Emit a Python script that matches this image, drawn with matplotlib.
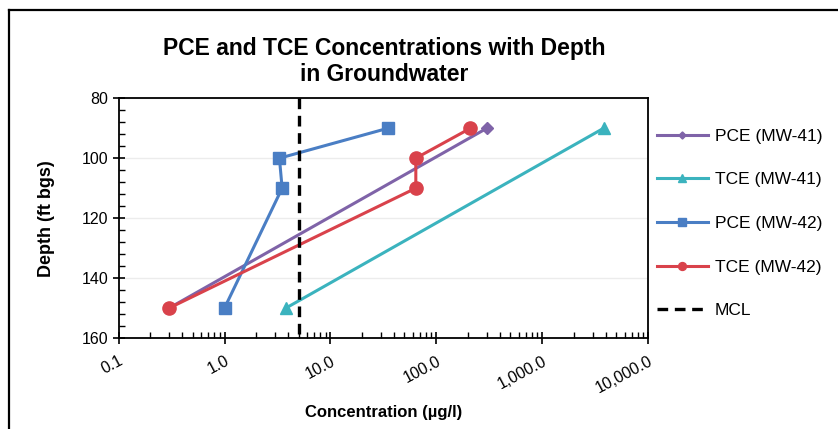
import numpy as np
import matplotlib
matplotlib.use("Agg")
import matplotlib.pyplot as plt
from matplotlib.ticker import FixedLocator, FuncFormatter
from matplotlib.lines import Line2D

plt.rcParams['font.family'] = ['Liberation Sans', 'DejaVu Sans']

# data
depth_mw41 = [90, 150]
pce_mw41 = [300, 0.3]
tce_mw41 = [3800, 3.8]

depth_mw42 = [90, 100, 110, 150]
pce_mw42 = [35, 3.3, 3.5, 1.0]
tce_mw42 = [210, 64, 64, 0.3]

mcl_value = 5.0
mcl_depth = [80, 160]

x_ticks = [0.1, 1, 10, 100, 1000, 10000]
y_ticks = [80, 100, 120, 140, 160]

fig = plt.figure(figsize=(8.38, 4.29), dpi=100)
ax = fig.add_axes([0.1415, 0.212, 0.632, 0.559])

ax.plot(pce_mw41, depth_mw41, '-D', color='#7F63A8', lw=2.2, ms=6, label='PCE (MW-41)')
ax.plot(tce_mw41, depth_mw41, '-^', color='#3BB3BE', lw=2.2, ms=9, label='TCE (MW-41)')
ax.plot(pce_mw42, depth_mw42, '-s', color='#4A7EC4', lw=2.2, ms=9, label='PCE (MW-42)')
ax.plot(tce_mw42, depth_mw42, '-o', color='#D9424B', lw=2.2, ms=9.5, label='TCE (MW-42)')
ax.plot([mcl_value, mcl_value], mcl_depth, color='black', lw=2.4, dashes=(3.2, 2.0), label='MCL')

ax.set_xscale('log')
ax.set_xlim(0.1, 10000)
ax.set_ylim(160, 80)

ax.xaxis.set_major_locator(FixedLocator(x_ticks))
ax.xaxis.set_major_formatter(FuncFormatter(lambda v, p: f"{v:,.1f}"))
minors = [m * d for d in x_ticks[:-1] for m in range(2, 10)]
ax.xaxis.set_minor_locator(FixedLocator(minors))
ax.xaxis.set_minor_formatter(FuncFormatter(lambda v, p: ''))

ax.set_yticks(y_ticks)
ax.set_yticks(np.arange(80, 161, 4), minor=True)

ax.tick_params(axis='both', which='major', direction='inout', length=8, width=1.2,
               labelsize=11.5, colors='black')
ax.tick_params(axis='both', which='minor', direction='in', length=4, width=1.0)
ax.tick_params(axis='x', which='major', pad=7)
plt.setp(ax.get_xticklabels(), rotation=28, ha='right', rotation_mode='anchor')

ax.yaxis.grid(True, which='major', color='#ececec', lw=1.0)
ax.set_axisbelow(True)
for s in ax.spines.values():
    s.set_linewidth(1.3)
    s.set_color('black')

ax.set_ylabel('Depth (ft bgs)', fontsize=13, fontweight='bold', labelpad=19)
ax.set_xlabel('Concentration (µg/l)', fontsize=12, fontweight='bold', labelpad=7)

fig.text(0.459, 0.857, 'PCE and TCE Concentrations with Depth\nin Groundwater',
         ha='center', va='center', fontsize=16.5, fontweight='bold', linespacing=1.15)

leg = ax.legend(loc='center left', bbox_to_anchor=(0.774, 0.479),
                bbox_transform=fig.transFigure, frameon=False, fontsize=12.5,
                labelspacing=1.64, handlelength=2.9, handletextpad=0.4,
                borderpad=0, markerscale=0.6)

# frame lines on the left and top of the picture
fig.add_artist(Line2D([9 / 838, 9 / 838], [0, 1 - 10 / 429], color='black', lw=1.6,
                      transform=fig.transFigure))
fig.add_artist(Line2D([9 / 838, 1], [1 - 10 / 429, 1 - 10 / 429], color='black', lw=1.6,
                      transform=fig.transFigure))

fig.savefig('out.png', dpi=100)
